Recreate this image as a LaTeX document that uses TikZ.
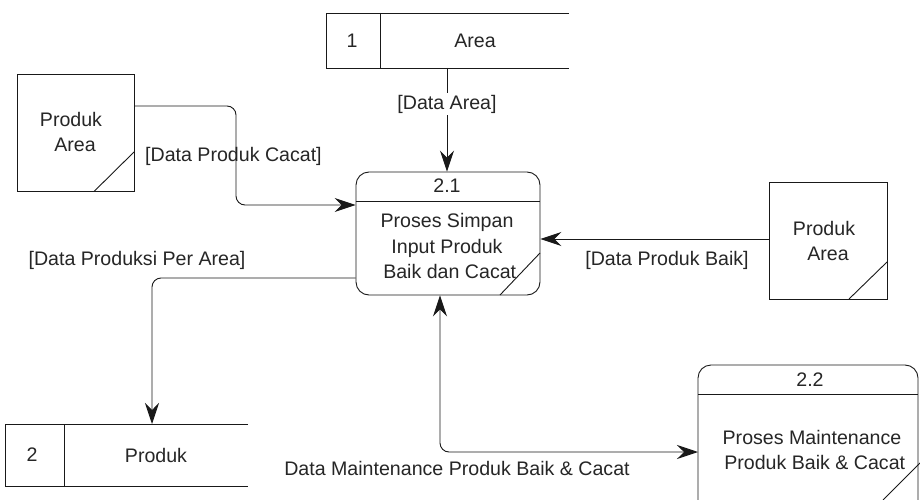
\documentclass[tikz,border=0pt]{standalone}
\usepackage{fontspec}
\setmainfont{Liberation Sans}
\usetikzlibrary{arrows.meta}
\tikzset{
  >={Stealth[length=21pt,width=14pt,inset=7pt]},
  line/.style={draw=black!90, line width=0.9pt},
  flow/.style={line, ->},
  txt/.style={font=\fontsize{19.6}{25.5}\selectfont, text=black!85, inner sep=0pt, align=center},
  lbl/.style={txt, fill=white, inner sep=1.5pt},
  proc/.style={line, rounded corners=13pt},
}
\begin{document}
\begin{tikzpicture}[x=1pt,y=-1pt]
\useasboundingbox (0,0) rectangle (920,500);
\fill[white] (0,0) rectangle (920,500);

% data store 1: Area
\draw[line] (569,13) -- (326,13) -- (326,68) -- (569,68);
\draw[line] (380,13) -- (380,68);
\node[txt] (s1id) at (352,41) {1};
\node[txt] (s1) at (475,41) {Area};
\coordinate (s1b) at (447,68);

% data store 2: Produk
\draw[line] (248,424) -- (5,424) -- (5,486) -- (248,486);
\draw[line] (64,424) -- (64,486);
\node[txt] (s2id) at (32,455) {2};
\node[txt] (s2) at (156,455) {Produk};
\coordinate (s2t) at (152,424);

% external entity left
\node[line, minimum width=117pt, minimum height=117pt, inner sep=0pt] (e1) at (75.5,133) {};
\draw[line] (134,152) -- (94,191.5);
\node[txt] at (71,119) {Produk};
\node[txt] at (75,145) {Area};

% external entity right
\node[line, minimum width=118pt, minimum height=117pt, inner sep=0pt] (e2) at (828,240.5) {};
\draw[line] (887,262) -- (849,299);
\node[txt] at (824,228) {Produk};
\node[txt] at (828,254) {Area};

% process 2.1
\node[proc, minimum width=184pt, minimum height=123pt, inner sep=0pt] (p1) at (448,233.5) {};
\draw[line] (p1.west |- 0,201) -- (p1.east |- 0,201);
\draw[line] (540,253) -- (500,295);
\node[txt] (p1id) at (447,186) {2.1};
\node[txt] (p1t) at (447,246) {Proses Simpan\\Input Produk\\\ Baik dan Cacat};

% process 2.2 (runs off the lower edge)
\begin{scope}
\clip (0,0) rectangle (920,500);
\draw[proc] (698,365) rectangle (918,520);
\draw[line] (698,394) -- (918,394);
\draw[line] (920,463) -- (883,500);
\end{scope}
\node[txt] (p2id) at (810,380) {2.2};
\node[txt] (p2t) at (812,450) {Proses Maintenance\\\ Produk Baik \& Cacat};

% flows
\draw[flow] (s1b) -- (p1.north -| s1b);
\node[lbl] at (447,104) {[Data Area]};

\draw[flow, rounded corners=9pt] (e1.east |- 0,106) -- (236,106) -- (236,205) -- (p1.west |- 0,205);
\node[txt, anchor=west] at (145,156) {[Data Produk Cacat]};

\draw[flow] (e2.west |- 0,239) -- (p1.east |- 0,239);
\node[txt] at (667,260) {[Data Produk Baik]};

\draw[flow, rounded corners=9pt] (p1.west |- 0,278) -- (152,278) -- (s2t);
\node[txt] at (137,260) {[Data Produksi Per Area]};

\draw[line, <->, rounded corners=9pt]
  (p1.south -| 440,0) -- (440,452) -- (698,452);
\node[txt] at (457,468) {Data Maintenance Produk Baik \& Cacat};
\end{tikzpicture}
\end{document}
